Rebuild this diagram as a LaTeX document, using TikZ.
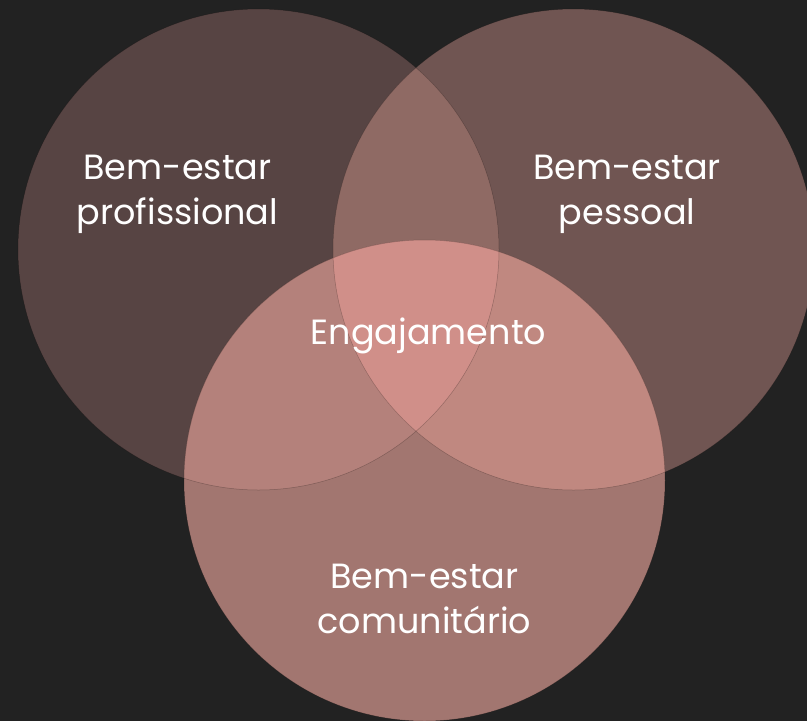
\documentclass[tikz,border=0pt]{standalone}
\usepackage{fontspec}
\setmainfont[Ligatures=NoCommon]{Poppins}
\definecolor{bg}{HTML}{222222}
\definecolor{cL}{HTML}{574443}
\definecolor{cR}{HTML}{705552}
\definecolor{cB}{HTML}{A27670}
\definecolor{cLR}{HTML}{8F6A64}
\definecolor{cLB}{HTML}{B4817B}
\definecolor{cRB}{HTML}{C08880}
\definecolor{cLRB}{HTML}{D08F89}
\tikzset{
  lbl/.style={text=white, font=\fontsize{35}{45}\selectfont, align=center, inner sep=0pt},
  edge/.style={draw=black, draw opacity=0.25, line width=0.5pt}
}
\begin{document}
\begin{tikzpicture}[x=1pt,y=-1pt]
\fill[bg] (0,0) rectangle (807,721);
\useasboundingbox (0,0) rectangle (807,721);
\def\rr{240.5}
\coordinate (cl) at (258.5,249.5);
\coordinate (cr) at (573.5,249.5);
\coordinate (cb) at (424.5,480.5);
\fill[cL] (cl) circle[radius=\rr];
\fill[cR] (cr) circle[radius=\rr];
\fill[cB] (cb) circle[radius=\rr];
\begin{scope}
  \clip (cl) circle[radius=\rr];
  \fill[cLR] (cr) circle[radius=\rr];
  \fill[cLB] (cb) circle[radius=\rr];
\end{scope}
\begin{scope}
  \clip (cr) circle[radius=\rr];
  \fill[cRB] (cb) circle[radius=\rr];
\end{scope}
\begin{scope}
  \clip (cl) circle[radius=\rr];
  \clip (cr) circle[radius=\rr];
  \fill[cLRB] (cb) circle[radius=\rr];
\end{scope}
\draw[edge] (cl) circle[radius=\rr];
\draw[edge] (cr) circle[radius=\rr];
\draw[edge] (cb) circle[radius=\rr];
\node[lbl, anchor=base] (prof) at (177.5,224) {Bem-estar\\profissional};
\node[lbl, anchor=base] (pess) at (627,224) {Bem-estar\\pessoal};
\node[lbl, anchor=base] (eng) at (428.5,344) {Engajamento};
\node[lbl, anchor=base] (com) at (424.5,633) {Bem-estar\\comunitário};
\end{tikzpicture}
\end{document}
